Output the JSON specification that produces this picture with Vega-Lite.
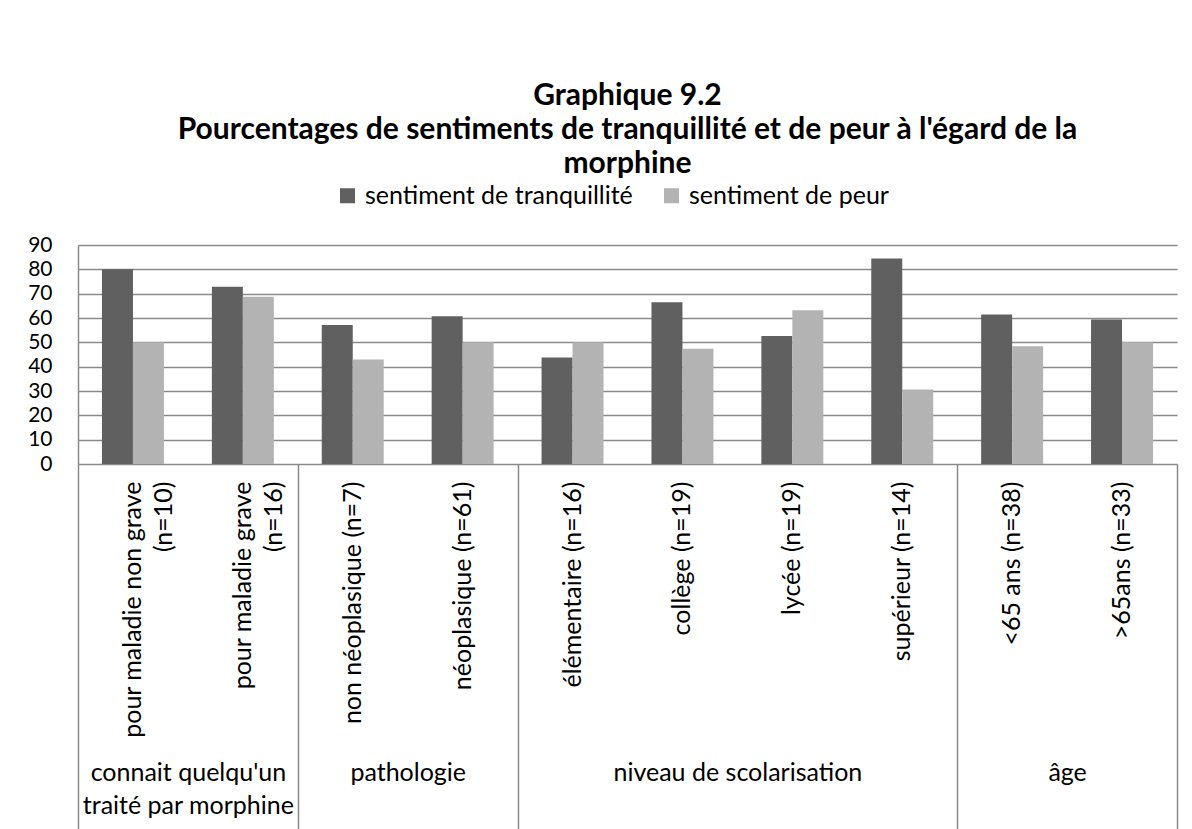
{
  "$schema": "https://vega.github.io/schema/vega-lite/v6.json",
  "width": 1099,
  "height": 219,
  "autosize": {"type": "none"},
  "padding": {"left": 78, "top": 245, "right": 15, "bottom": 365},
  "background": "white",
  "config": {"font": "Lato", "view": {"stroke": null}},
  "title": {
    "text": ["Graphique 9.2", "Pourcentages de sentiments de tranquillité et de peur à l'égard de la", "morphine"],
    "font": "Lato",
    "fontSize": 30,
    "fontWeight": "bold",
    "lineHeight": 34,
    "anchor": "middle",
    "offset": 4,
    "color": "black"
  },
  "layer": [
    {
      "data": {
        "values": [
          {"groupe": "connait quelqu'un traité par morphine", "categorie": "pour maladie non grave (n=10)", "serie": "sentiment de tranquillité", "pourcentage": 80},
          {"groupe": "connait quelqu'un traité par morphine", "categorie": "pour maladie non grave (n=10)", "serie": "sentiment de peur", "pourcentage": 50},
          {"groupe": "connait quelqu'un traité par morphine", "categorie": "pour maladie grave (n=16)", "serie": "sentiment de tranquillité", "pourcentage": 72.8},
          {"groupe": "connait quelqu'un traité par morphine", "categorie": "pour maladie grave (n=16)", "serie": "sentiment de peur", "pourcentage": 68.75},
          {"groupe": "pathologie", "categorie": "non néoplasique (n=7)", "serie": "sentiment de tranquillité", "pourcentage": 57.1},
          {"groupe": "pathologie", "categorie": "non néoplasique (n=7)", "serie": "sentiment de peur", "pourcentage": 42.9},
          {"groupe": "pathologie", "categorie": "néoplasique (n=61)", "serie": "sentiment de tranquillité", "pourcentage": 60.7},
          {"groupe": "pathologie", "categorie": "néoplasique (n=61)", "serie": "sentiment de peur", "pourcentage": 50},
          {"groupe": "niveau de scolarisation", "categorie": "élémentaire (n=16)", "serie": "sentiment de tranquillité", "pourcentage": 43.75},
          {"groupe": "niveau de scolarisation", "categorie": "élémentaire (n=16)", "serie": "sentiment de peur", "pourcentage": 50},
          {"groupe": "niveau de scolarisation", "categorie": "collège (n=19)", "serie": "sentiment de tranquillité", "pourcentage": 66.5},
          {"groupe": "niveau de scolarisation", "categorie": "collège (n=19)", "serie": "sentiment de peur", "pourcentage": 47.4},
          {"groupe": "niveau de scolarisation", "categorie": "lycée (n=19)", "serie": "sentiment de tranquillité", "pourcentage": 52.6},
          {"groupe": "niveau de scolarisation", "categorie": "lycée (n=19)", "serie": "sentiment de peur", "pourcentage": 63.2},
          {"groupe": "niveau de scolarisation", "categorie": "supérieur (n=14)", "serie": "sentiment de tranquillité", "pourcentage": 84.5},
          {"groupe": "niveau de scolarisation", "categorie": "supérieur (n=14)", "serie": "sentiment de peur", "pourcentage": 30.6},
          {"groupe": "âge", "categorie": "<65 ans (n=38)", "serie": "sentiment de tranquillité", "pourcentage": 61.4},
          {"groupe": "âge", "categorie": "<65 ans (n=38)", "serie": "sentiment de peur", "pourcentage": 48.4},
          {"groupe": "âge", "categorie": ">65ans (n=33)", "serie": "sentiment de tranquillité", "pourcentage": 59.4},
          {"groupe": "âge", "categorie": ">65ans (n=33)", "serie": "sentiment de peur", "pourcentage": 50}
        ]
      },
      "mark": {"type": "bar"},
      "encoding": {
        "x": {
          "field": "categorie",
          "type": "nominal",
          "sort": null,
          "scale": {"paddingInner": 0.436, "paddingOuter": 0.218},
          "axis": {
            "orient": "bottom",
            "title": null,
            "labelAngle": 270,
            "labelAlign": "right",
            "labelBaseline": "middle",
            "labelFontSize": 25,
            "labelPadding": 17,
            "labelLineHeight": 31,
            "labelLimit": 400,
            "labelColor": "black",
            "ticks": false,
            "domain": false,
            "grid": false,
            "labelExpr": "datum.label == 'pour maladie non grave (n=10)' ? ['pour maladie non grave', '(n=10)'] : datum.label == 'pour maladie grave (n=16)' ? ['pour maladie grave', '(n=16)'] : datum.label"
          }
        },
        "xOffset": {"field": "serie", "type": "nominal", "sort": ["sentiment de tranquillité", "sentiment de peur"]},
        "y": {
          "field": "pourcentage",
          "type": "quantitative",
          "scale": {"domain": [0, 90], "nice": false},
          "axis": {
            "title": null,
            "values": [0, 10, 20, 30, 40, 50, 60, 70, 80, 90],
            "labelFontSize": 21,
            "labelPadding": 26,
            "labelColor": "black",
            "ticks": false,
            "domain": true,
            "domainColor": "#8a8a8a",
            "domainWidth": 1.5,
            "grid": true,
            "gridColor": "#8a8a8a",
            "gridWidth": 1.5
          }
        },
        "color": {
          "field": "serie",
          "type": "nominal",
          "scale": {"domain": ["sentiment de tranquillité", "sentiment de peur"], "range": ["#606060", "#b3b3b3"]},
          "legend": {
            "orient": "none",
            "legendX": 257,
            "legendY": -62,
            "direction": "horizontal",
            "title": null,
            "symbolType": "square",
            "symbolSize": 225,
            "symbolStrokeWidth": 0,
            "symbolOpacity": 1,
            "labelFontSize": 25,
            "labelOffset": 5,
            "columnPadding": 26,
            "labelLimit": 400,
            "labelColor": "black"
          }
        }
      }
    },
    {
      "data": {"values": [{"limite": 0}, {"limite": 2}, {"limite": 4}, {"limite": 8}, {"limite": 10}]},
      "mark": {"type": "rule", "opacity": 0},
      "encoding": {
        "x": {
          "field": "limite",
          "type": "quantitative",
          "scale": {"domain": [0, 10], "nice": false, "zero": false},
          "axis": {
            "orient": "bottom",
            "title": null,
            "values": [0, 1, 2, 3, 4, 6, 8, 9, 10],
            "grid": false,
            "domain": false,
            "tickSize": 400,
            "tickColor": "#8a8a8a",
            "tickWidth": 1.5,
            "tickOpacity": {"condition": {"test": "indexof([1, 3, 6, 9], datum.value) >= 0", "value": 0}, "value": 1},
            "labelExpr": "datum.value == 1 ? [\"connait quelqu'un\", \"traité par morphine\"] : datum.value == 3 ? 'pathologie' : datum.value == 6 ? 'niveau de scolarisation' : datum.value == 9 ? 'âge' : ''",
            "labelFontSize": 25,
            "labelPadding": -104,
            "labelBaseline": "top",
            "labelAngle": 0,
            "labelAlign": "center",
            "labelLineHeight": 33,
            "labelOverlap": false,
            "labelBound": false,
            "labelFlush": false,
            "labelLimit": 400,
            "labelColor": "black"
          }
        }
      }
    }
  ],
  "resolve": {"scale": {"x": "independent"}, "axis": {"x": "independent"}}
}
